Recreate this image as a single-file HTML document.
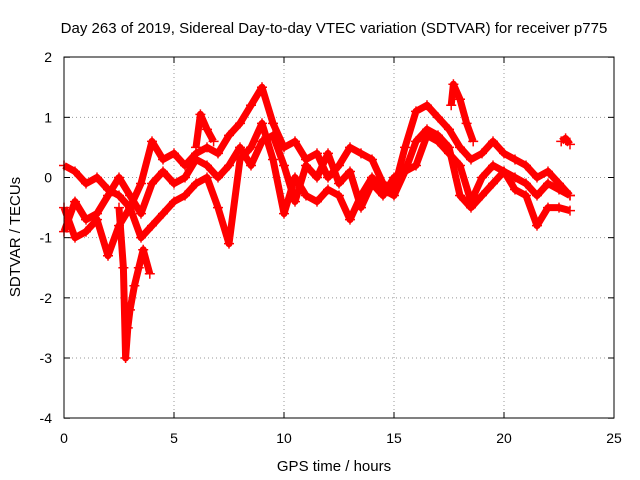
<!DOCTYPE html>
<html><head><meta charset="utf-8"><style>
body{margin:0;background:#fff}
svg{display:block;font-family:"Liberation Sans",sans-serif}
</style></head><body>
<svg id="chart" width="640" height="480">
<text x="334" y="33" text-anchor="middle" font-size="15">Day 263 of 2019, Sidereal Day-to-day VTEC variation (SDTVAR) for receiver p775</text>
<g id="grid"></g><g id="axes"></g><g id="marks"></g>
<rect x="64" y="57" width="550" height="361" fill="none" stroke="#000" stroke-width="1"/>
<text x="334" y="471" text-anchor="middle" font-size="15">GPS time / hours</text>
<text transform="translate(20,237) rotate(-90)" text-anchor="middle" font-size="15">SDTVAR / TECUs</text>
</svg>
<script>
const xTicks=[0,5,10,15,20,25];
const yTicks=[2,1,0,-1,-2,-3,-4];
const track1T=[0,0.5,1,1.5,2,2.5,3,3.5,4,4.5,5,5.5,6,6.5,7,7.5,8,8.5,9,9.5,10,10.5,11,11.5,12,12.5,13,13.5,14,14.5,15,15.5,16,16.5,17,17.5,18,18.5,19,19.5,20,20.5,21,21.5,22,22.5,23];
const track1V=[0.2,0.1,-0.1,0.0,-0.2,-0.3,-0.5,-0.1,0.6,0.3,0.4,0.2,0.4,0.5,0.4,0.7,0.9,1.2,1.5,0.9,0.5,0.6,0.3,0.4,0.0,0.2,0.5,0.4,0.3,-0.1,-0.2,0.5,1.1,1.2,1.0,0.8,0.5,0.3,0.4,0.6,0.4,0.3,0.2,0.0,0.1,-0.1,-0.3];
const track2V=[-0.5,-1.0,-0.9,-0.7,-1.3,-0.8,-0.5,-1.0,-0.8,-0.6,-0.4,-0.3,-0.1,0.0,-0.5,-1.1,0.3,0.5,0.9,0.3,-0.6,0.0,-0.3,-0.4,-0.2,-0.3,-0.7,-0.3,0.0,-0.2,-0.3,0.1,0.6,0.8,0.7,0.5,-0.3,-0.5,-0.3,-0.1,0.1,-0.2,-0.3,-0.8,-0.5,-0.5,-0.55];
const track4V=[-0.9,-0.4,-0.7,-0.6,-0.3,0.0,-0.3,-0.6,-0.1,0.1,-0.1,0.0,0.3,0.2,0.0,0.2,0.5,0.2,0.6,0.7,0.2,-0.4,0.2,0.0,0.4,-0.1,0.1,-0.5,-0.1,-0.3,0.0,0.1,0.2,0.7,0.6,0.4,0.2,-0.4,0.0,0.2,0.1,0.0,-0.1,-0.3,-0.1,-0.2,-0.3];
const dipT=[2.5,2.7,2.8,2.9,3.0,3.2,3.4,3.6,3.9];
const dipV=[-0.5,-1.5,-3.0,-2.5,-2.2,-1.8,-1.5,-1.2,-1.6];
const spikeT=[17.6,17.7,18.0,18.3,18.6];
const spikeV=[1.2,1.55,1.3,0.9,0.6];
const lateT=[22.6,22.8,23.0];
const lateV=[0.6,0.65,0.55];
const earlyT=[6.0,6.2,6.5,6.8];
const earlyV=[0.5,1.05,0.8,0.6];
const X=t=>64+t*22, Y=v=>177.5-v*60.17;
const NS="http://www.w3.org/2000/svg";
const grid=document.getElementById('grid'),axes=document.getElementById('axes'),marks=document.getElementById('marks');
function mk(tag,attrs,parent){const e=document.createElementNS(NS,tag);for(const k in attrs)e.setAttribute(k,attrs[k]);parent.appendChild(e);return e;}
xTicks.forEach(t=>{
 if(t>0&&t<25){const g=mk('line',{x1:X(t),x2:X(t),y1:57,y2:418,stroke:'#999','stroke-dasharray':'1,3'},grid);
 
 }
 const l=mk('text',{x:X(t),y:443,'text-anchor':'middle','font-size':14},axes);l.textContent=t;
 
 
 mk('line',{x1:X(t),x2:X(t),y1:418,y2:412,stroke:'#000'},axes);
 mk('line',{x1:X(t),x2:X(t),y1:57,y2:63,stroke:'#000'},axes);
});
yTicks.forEach(v=>{
 if(v<2&&v>-4){const g=mk('line',{x1:64,x2:614,y1:Y(v),y2:Y(v),stroke:'#999','stroke-dasharray':'1,3'},grid);
 
 }
 const l=mk('text',{x:52,y:Y(v)+5,'text-anchor':'end','font-size':14},axes);l.textContent=v;
 
 
 mk('line',{x1:64,x2:70,y1:Y(v),y2:Y(v),stroke:'#000'},axes);
 mk('line',{x1:614,x2:608,y1:Y(v),y2:Y(v),stroke:'#000'},axes);
});
function series(ts,vs,name){
 const g=mk('g',{},marks);
 
 
 mk('polyline',{points:ts.map((t,i)=>X(t)+','+Y(vs[i])).join(' '),fill:'none',stroke:'#f00','stroke-width':7,'stroke-linejoin':'round'},g);
 let d='';ts.forEach((t,i)=>{const x=X(t),y=Y(vs[i]);d+=`M${x-5},${y}h10M${x},${y-5}v10`;});
 mk('path',{d:d,stroke:'#f00','stroke-width':1.5},g);
}
series(track1T,track1V,'series-track-1');
series(track1T,track2V,'series-track-2');
series(track1T,track4V,'series-track-3');
series(dipT,dipV,'series-dip');
series(spikeT,spikeV,'series-spike');
series(lateT,lateV,'series-late');
series(earlyT,earlyV,'series-early');
</script>
</body></html>
